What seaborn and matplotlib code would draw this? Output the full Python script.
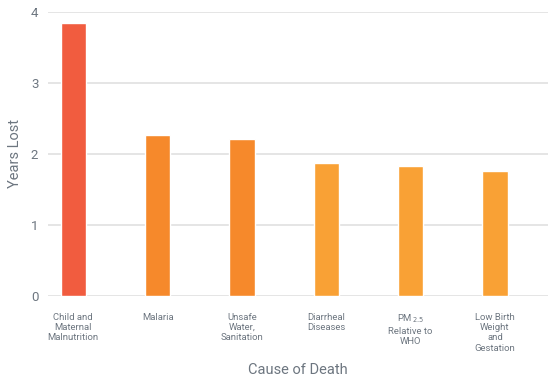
import matplotlib
matplotlib.use("Agg")
import matplotlib.pyplot as plt
import seaborn as sns
import pandas as pd

categories = ["Child and\nMaternal\nMalnutrition", "Malaria", "Unsafe\nWater,\nSanitation",
              "Diarrheal\nDiseases", "PM$_{\\,2.5}$\nRelative to\nWHO", "Low Birth\nWeight\nand\nGestation"]
years_lost = [3.84, 2.27, 2.21, 1.88, 1.83, 1.76]
bar_colors = ["#F15C3F", "#F6892B", "#F6892B", "#F9A135", "#F9A135", "#F9A135"]
y_ticks = [0, 1, 2, 3, 4]

sns.set_theme(style="white")
plt.rcParams['font.family'] = ['Roboto', 'DejaVu Sans']

df = pd.DataFrame({"cause": categories, "years": years_lost})

fig = plt.figure(figsize=(5.48, 3.77), dpi=100)
ax = fig.add_axes([48/548, 1 - 296/377, 500/548, 284/377])
sns.barplot(data=df, x="cause", y="years", hue="cause", palette=bar_colors,
            width=0.3, legend=False, ax=ax, saturation=1)

ax.set_ylim(0, 4)
ax.set_xlim(-0.3, 5.63)
ax.set_yticks(y_ticks)
ax.yaxis.grid(True, color="#e3e3e3", linewidth=1.3)
ax.set_axisbelow(True)
for s in ax.spines.values():
    s.set_visible(False)
ax.tick_params(axis="both", length=0, colors="#6d7680")
ax.tick_params(axis="y", labelsize=9.5, pad=7)
ax.tick_params(axis="x", labelsize=6.8, pad=12)
for lab in ax.get_xticklabels():
    lab.set_linespacing(1.2)
    lab.set_verticalalignment("top")
ax.set_xlabel("Cause of Death", fontsize=10.5, color="#6d7680", labelpad=7)
ax.set_ylabel("Years Lost", fontsize=10.5, color="#6d7680", labelpad=6)

fig.savefig("out.png", dpi=100)
